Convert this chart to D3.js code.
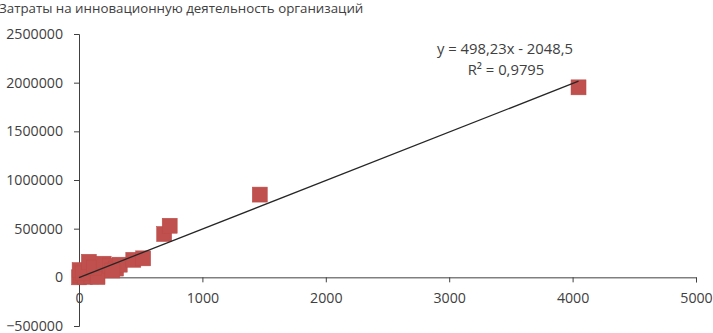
<!DOCTYPE html>
<html><head><meta charset="utf-8">
<script src="https://cdn.jsdelivr.net/npm/d3@7"></script>
<style>body{margin:0;background:#fff}svg{display:block}text{font-family:"Open Sans",sans-serif;fill:#404040}</style>
</head><body><svg id="c" width="713" height="333"></svg>
<script>
const title = "Затраты на инновационную деятельность организаций";
const xValues = [0, 15, 50, 100, 150, 5, 30, 80, 120, 200, 250, 300, 330, 270, 440, 520, 690, 735, 1465, 4048];
const yValues = [0, 20000, 5000, 10000, 3000, 75000, 40000, 160000, 100000, 140000, 120000, 90000, 130000, 70000, 180000, 195000, 445000, 530000, 850000, 1952000];
const xTicks = [0, 1000, 2000, 3000, 4000, 5000];
const yTicks = [-500000, 0, 500000, 1000000, 1500000, 2000000, 2500000];
const slope = 498.23, intercept = -2048.5;
const eqLabel = "y = 498,23x - 2048,5";
const r2Label = "R² = 0,9795";

const svg = d3.select("#c");
const x = d3.scaleLinear().domain([0, 5000]).range([79, 696]);
const y = d3.scaleLinear().domain([-500000, 2500000]).range([326, 34]);

svg.append("text").attr("x", -1).attr("y", 13).attr("font-size", 13.3).text(title);

// y axis
const ya = svg.append("g").attr("transform", `translate(${x(0)},0)`)
  .call(d3.axisLeft(y).tickValues(yTicks).tickSize(5).tickPadding(11).tickFormat(d3.format("d")));
ya.select(".domain").attr("stroke", "#404040");
ya.selectAll(".tick line").attr("stroke", "#404040");
ya.selectAll("text").attr("font-size", 14.2).attr("font-family", "Open Sans").attr("fill", "#404040");

// x axis at y=0
const xa = svg.append("g").attr("transform", `translate(0,${y(0)})`)
  .call(d3.axisBottom(x).tickValues(xTicks).tickSize(5).tickPadding(11).tickFormat(d3.format("d")));
xa.select(".domain").attr("stroke", "#404040");
xa.selectAll(".tick line").attr("stroke", "#404040");
xa.selectAll("text").attr("font-size", 14.2).attr("font-family", "Open Sans").attr("fill", "#404040");

// markers
const pts = xValues.map((v, i) => [v, yValues[i]]);
svg.append("g").selectAll("rect").data(pts).join("rect")
  .attr("x", d => x(d[0]) - 7.5).attr("y", d => y(d[1]) - 7.5)
  .attr("width", 15).attr("height", 15)
  .attr("fill", "#c0504d").attr("stroke", "#b94a47").attr("stroke-width", 0.5);

// trendline
const xmin = d3.min(xValues), xmax = d3.max(xValues);
svg.append("line")
  .attr("x1", x(xmin)).attr("y1", y(slope * xmin + intercept))
  .attr("x2", x(xmax)).attr("y2", y(slope * xmax + intercept))
  .attr("stroke", "#262626").attr("stroke-width", 1.3);

svg.append("text").attr("x", 505).attr("y", 54).attr("text-anchor", "middle").attr("font-size", 14.8).text(eqLabel);
svg.append("text").attr("x", 506).attr("y", 75).attr("text-anchor", "middle").attr("font-size", 14.8).text(r2Label);
</script></body></html>
